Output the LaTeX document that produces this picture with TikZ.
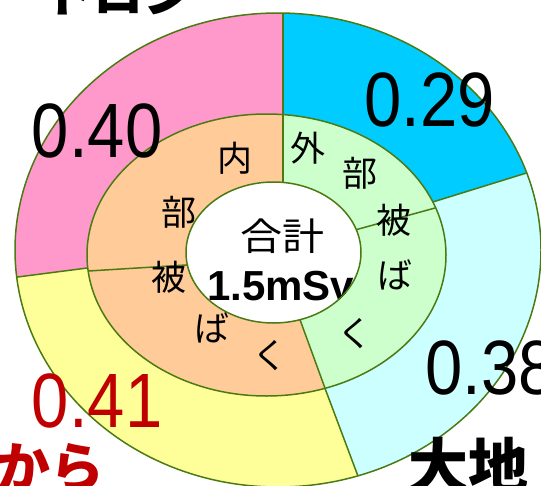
\documentclass[tikz,border=0pt]{standalone}
\usepackage{fontspec}
\usepackage{graphicx}
\setmainfont{Liberation Sans}
\newfontfamily\jp{Noto Sans CJK JP}
\definecolor{edgec}{HTML}{4B7A12}
\definecolor{pinkc}{HTML}{FF99CC}
\definecolor{bluec}{HTML}{00CCFF}
\definecolor{cyanc}{HTML}{CCFFFF}
\definecolor{yellowc}{HTML}{FFFF99}
\definecolor{orangec}{HTML}{FFCC99}
\definecolor{greenc}{HTML}{CCFFCC}
\definecolor{redc}{HTML}{C00000}
\tikzset{
  rim/.style={draw=edgec, line width=1.5pt},
  numlab/.style={anchor=base west, inner sep=0pt, font=\fontsize{67}{67}\selectfont},
  ringlab/.style={anchor=center, inner sep=0pt, font=\jp\fontsize{35}{35}\selectfont},
  biglab/.style={anchor=base west, inner sep=0pt, font=\jp\bfseries\fontsize{60}{60}\selectfont}
}
\begin{document}
\begin{tikzpicture}[x=1pt,y=-1pt]
\useasboundingbox (0,0) rectangle (541,485);
% outer ring
\begin{scope}
\clip (278,250) ellipse [x radius=263pt, y radius=237pt];
\fill[pinkc] (-83,290) -- (92,267.4) -- (275,255) -- (283,120) -- (283,-50) -- (-83,-50) -- cycle;
\fill[bluec] (283,-50) -- (283,120) -- (275,255) -- (428,203.5) -- (633,140) -- (633,-50) -- cycle;
\fill[cyanc] (633,140) -- (428,203.5) -- (275,255) -- (323,383) -- (379,532) -- (633,532) -- cycle;
\fill[yellowc] (379,532) -- (323,383) -- (275,255) -- (92,267.4) -- (-83,290) -- (-83,532) -- cycle;
\coordinate (t1) at (283,120); \coordinate (t2) at (283,-50);
\coordinate (r1) at (428,203.5); \coordinate (r2) at (633,140);
\coordinate (l1) at (92,267.4); \coordinate (l2) at (-83,290);
\coordinate (b1) at (323,383); \coordinate (b2) at (379,532);
\draw[rim] (t1) -- (t2);
\draw[rim] (r1) -- (r2);
\draw[rim] (l1) -- (l2);
\draw[rim] (b1) -- (b2);
\end{scope}
% middle ring
\begin{scope}
\clip (266.5,255) ellipse [x radius=179.5pt, y radius=141pt];
\fill[orangec] (283,60) -- (283,200) -- (273,252) -- (295,306) -- (339,426.5) -- (-50,500) -- (-50,60) -- cycle;
\fill[greenc] (283,60) -- (283,200) -- (273,252) -- (295,306) -- (339,426.5) -- (600,426.5) -- (600,60) -- cycle;
\coordinate (mt1) at (283,60); \coordinate (mt2) at (283,200);
\coordinate (mr1) at (345,232.75); \coordinate (mr2) at (515,186);
\coordinate (ml1) at (196,264.4); \coordinate (ml2) at (28,274.7);
\coordinate (mb1) at (295,306); \coordinate (mb2) at (339,426.5);
\draw[rim] (mt1) -- (mt2);
\draw[rim] (mr1) -- (mr2);
\draw[rim] (ml1) -- (ml2);
\draw[rim] (mb1) -- (mb2);
\end{scope}
% hole
\fill[white] (273.5,252.5) ellipse [x radius=87.5pt, y radius=70.5pt];
\begin{scope}
\clip (273.5,252.5) ellipse [x radius=87.5pt, y radius=70.5pt];
\node[anchor=center, inner sep=0pt] (total) at (282,236) {\scalebox{1}[0.9]{\jp\fontsize{42}{42}\selectfont 合計}};
\node[anchor=base west, inner sep=0pt, font=\bfseries\fontsize{42}{42}\selectfont] (sum) at (207,300) {1.5mSv};
\end{scope}
% rims
\draw[rim] (278,250) ellipse [x radius=263pt, y radius=237pt];
\draw[rim] (266.5,255) ellipse [x radius=179.5pt, y radius=141pt];
\draw[rim] (273.5,252.5) ellipse [x radius=87.5pt, y radius=70.5pt];
% ring labels
\node[ringlab] (i1) at (235,158) {内};
\node[ringlab] (i2) at (179,212) {部};
\node[ringlab] (i3) at (169,277) {被};
\node[ringlab] (i4) at (212,328) {ば};
\node[ringlab] (i5) at (270,356) {く};
\node[ringlab] (e1) at (308,148) {外};
\node[ringlab] (e2) at (360,173) {部};
\node[ringlab] (e3) at (394,220) {被};
\node[ringlab] (e4) at (395,275) {ば};
\node[ringlab] (e5) at (355,334) {く};
% values
\node[numlab] (v40) at (31.7,157) {\scalebox{1}[1.15]{0.40}};
\node[numlab] (v29) at (364,126) {\scalebox{1}[1.15]{0.29}};
\node[numlab] (v38) at (425,394) {\scalebox{1}[1.15]{0.38}};
\node[numlab, text=redc] (v41) at (31.7,427) {\scalebox{1}[1.15]{0.41}};
% category names (cut by the frame)
\node[biglab, font=\jp\bfseries\fontsize{50}{50}\selectfont] (thoron) at (43,12) {トロン};
\node[biglab, text=redc, font=\jp\bfseries\fontsize{54}{54}\selectfont] (food) at (-4,487) {から};
\node[biglab] (earth) at (408,488) {大地};
\end{tikzpicture}
\end{document}
